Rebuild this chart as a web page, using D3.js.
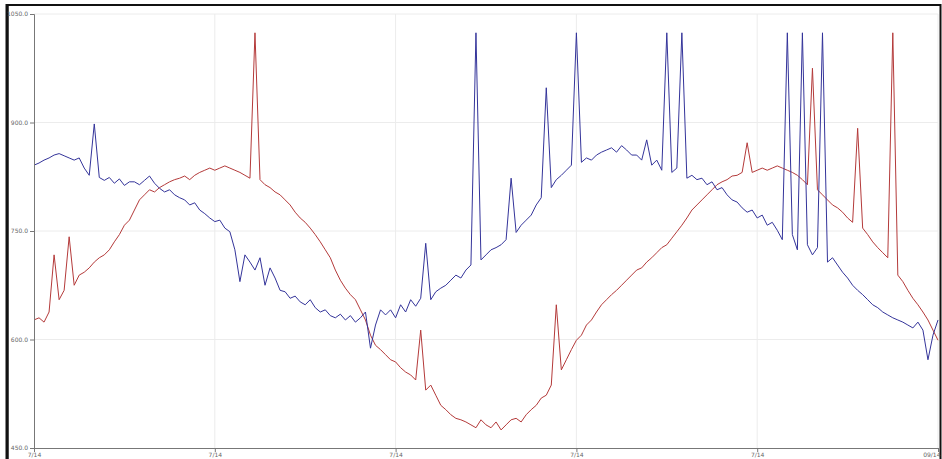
<!DOCTYPE html>
<html>
<head>
<meta charset="utf-8">
<script src="https://cdn.jsdelivr.net/npm/d3@7"></script>
<style>
  html, body { margin: 0; padding: 0; background: #fff; }
  svg { display: block; }
  .tick text { font-family: "DejaVu Sans", sans-serif; font-size: 6px; fill: #666; }
</style>
</head>
<body>
<svg id="chart" width="942" height="459"></svg>
<script>
// Two sensor readings sampled across the same time window
const blueSeries = [
  841, 844, 848, 851, 855, 857, 854, 851, 848, 851,
  837, 827, 898, 824, 820, 824, 816, 822, 813, 818,
  818, 814, 820, 826, 816, 809, 804, 807, 800, 796,
  793, 786, 789, 779, 774, 768, 763, 765, 754, 749,
  724, 680, 717, 707, 696, 713, 675, 699, 685, 668,
  666, 657, 660, 652, 648, 655, 644, 638, 641, 633,
  630, 635, 627, 633, 624, 630, 638, 588, 620, 641,
  634, 641, 630, 648, 638, 655, 646, 657, 733, 655,
  666, 671, 675, 682, 689, 685, 696, 703, 1024, 710,
  717, 724, 727, 731, 738, 823, 748, 758, 765, 772,
  786, 796, 948, 810, 821, 827, 834, 841, 1024, 845,
  851, 848, 855, 859, 862, 865, 859, 868, 862, 855,
  855, 848, 876, 841, 848, 834, 1024, 831, 837, 1024,
  823, 827, 821, 823, 814, 818, 807, 810, 800, 793,
  790, 782, 776, 779, 768, 772, 758, 762, 751, 738,
  1024, 745, 724, 1024, 731, 717, 727, 1024, 707, 713,
  703, 693, 685, 675, 668, 662, 655, 648, 644, 638,
  634, 630, 627, 624, 620, 616, 624, 613, 572, 606, 627
];
const redSeries = [
  627, 630, 624, 638, 717, 655, 668, 742, 675, 689,
  693, 699, 707, 713, 717, 724, 735, 745, 758, 765,
  779, 793, 800, 807, 804, 810, 814, 818, 821, 823,
  826, 821, 827, 831, 834, 837, 834, 837, 840, 837,
  834, 831, 827, 823, 1024, 821, 814, 810, 804, 800,
  793, 786, 776, 768, 762, 754, 745, 735, 724, 713,
  696, 682, 671, 662, 655, 641, 627, 606, 592, 586,
  579, 572, 569, 561, 555, 551, 544, 613, 530, 537,
  523, 509, 503, 496, 491, 489, 486, 482, 478, 489,
  482, 478, 486, 475, 482, 489, 491, 486, 496, 503,
  509, 519, 523, 537, 648, 558, 572, 586, 599, 606,
  620, 627, 638, 648, 655, 662, 668, 675, 682, 689,
  696, 699, 707, 713, 720, 727, 731, 740, 749, 758,
  768, 779, 786, 793, 800, 807, 814, 818, 821, 826,
  827, 831, 872, 831, 834, 837, 834, 837, 840, 837,
  834, 831, 827, 821, 814, 975, 807, 800, 793, 786,
  782, 776, 768, 762, 892, 754, 745, 735, 727, 720,
  713, 1024, 689, 680, 668, 657, 648, 638, 627, 613, 599
];
const yTickValues = [450, 600, 750, 900, 1050];
const xTickLabels = ["7/14", "7/14", "7/14", "7/14", "7/14", "09/14"];

(function draw() {
  const svg = d3.select("#chart");
  const H = 459;
  const plotLeft = 34, plotRight = 938, plotTop = 14, plotBottom = 448;

  // Outer frame
  svg.append("rect")
    .attr("x", 7.5).attr("y", 5).attr("width", 933).attr("height", 470)
    .attr("fill", "none").attr("stroke", "#111").attr("stroke-width", 2);
  svg.append("line")
    .attr("x1", 7).attr("x2", 7).attr("y1", 4).attr("y2", H)
    .attr("stroke", "#111").attr("stroke-width", 3);

  const n = blueSeries.length;
  const x = d3.scaleLinear().domain([0, n - 1]).range([plotLeft, plotRight]);
  const y = d3.scaleLinear().domain([450, 1050]).range([plotBottom, plotTop]);
  const xTickIdx = xTickLabels.map((_, i) => i * (n - 1) / (xTickLabels.length - 1));

  // Grid
  const grid = svg.append("g");
  grid.selectAll(".hg").data(yTickValues.slice(1)).join("line")
    .attr("x1", plotLeft).attr("x2", plotRight)
    .attr("y1", d => y(d)).attr("y2", d => y(d))
    .attr("stroke", "#ececec").attr("stroke-width", 1);
  grid.selectAll(".vg").data(xTickIdx.slice(1)).join("line")
    .attr("x1", d => x(d)).attr("x2", d => x(d))
    .attr("y1", plotTop).attr("y2", plotBottom)
    .attr("stroke", "#ececec").attr("stroke-width", 1);

  // Series lines
  const line = d3.line().x((d, i) => x(i)).y(d => y(d));
  svg.append("path").datum(redSeries)
    .attr("d", line).attr("fill", "none")
    .attr("stroke", "#b43a3a").attr("stroke-width", 1);
  svg.append("path").datum(blueSeries)
    .attr("d", line).attr("fill", "none")
    .attr("stroke", "#34349a").attr("stroke-width", 1);

  // Axes
  const yAxis = d3.axisLeft(y).tickValues(yTickValues).tickSize(4).tickPadding(2)
    .tickFormat(d3.format(".1f"));
  const gy = svg.append("g").attr("transform", `translate(${plotLeft},0)`).call(yAxis);
  const xAxis = d3.axisBottom(x).tickValues(xTickIdx).tickSize(4).tickPadding(1)
    .tickFormat((d, i) => xTickLabels[i]);
  const gx = svg.append("g").attr("transform", `translate(0,${plotBottom})`).call(xAxis);
  [gy, gx].forEach(g => {
    g.select(".domain").attr("stroke", "#777");
    g.selectAll(".tick line").attr("stroke", "#777");
  });
  gx.selectAll(".tick text").attr("dy", "0.6em");
  // keep the last date label inside the frame
  gx.selectAll(".tick text").filter((d, i, nodes) => i === nodes.length - 1)
    .attr("text-anchor", "end").attr("x", 2);
})();
</script>
</body>
</html>
